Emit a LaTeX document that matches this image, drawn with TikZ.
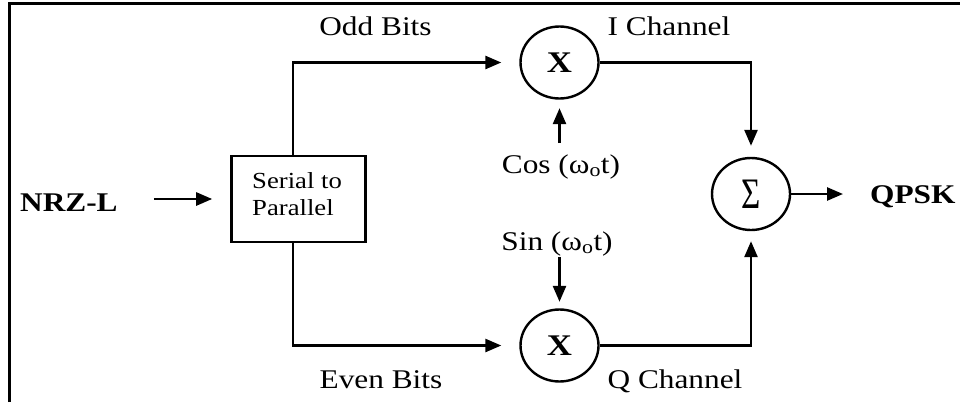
\documentclass[tikz,border=0pt]{standalone}
\usepackage{fontspec}
\setmainfont[FakeStretch=1.16]{Liberation Serif}
\usetikzlibrary{arrows.meta,shapes.geometric}
\begin{document}
\begin{tikzpicture}[x=1pt,y=-1pt,
  wire/.style={line width=2.6pt},
  flow/.style={wire,-{Triangle[length=16pt,width=13pt]}},
  mixer/.style={ellipse,draw,line width=2.4pt,minimum width=78pt,minimum height=72pt,inner sep=0pt,
    font=\fontsize{30}{32}\selectfont},
  blockbox/.style={draw,line width=2.6pt,minimum width=134pt,minimum height=86pt,inner sep=0pt},
  lbl/.style={font=\fontsize{27}{30}\selectfont,anchor=base,inner sep=0pt},
  boldlbl/.style={lbl,font=\fontsize{27}{30}\selectfont\bfseries},
  boxtext/.style={font=\fontsize{23}{27}\selectfont,anchor=base west,inner sep=0pt},
  ]
\useasboundingbox (0,0) rectangle (960,402);
% page frame (top and left edges)
\draw[line width=3pt] (9.5,402) -- (9.5,3) -- (960,3);

% blocks
\node[blockbox] (sp) at (298.5,199) {};
\node[boxtext] (sp1) at (252,188) {Serial to};
\node[boxtext] (sp2) at (252,215) {Parallel};

\node[mixer] (mi) at (559.5,62.5) {\bfseries X};
\node[mixer] (mq) at (559.5,345.5) {\bfseries X};
\node[mixer] (sum) at (751,194) {\scalebox{0.95}[1.45]{Σ}};

% texts
\node[boldlbl,anchor=base west] (nrz) at (20,211) {NRZ-L};
\node[boldlbl,anchor=base west] (out) at (870,203) {QPSK};
\node[lbl] (odd) at (375.5,35) {Odd Bits};
\node[lbl] (ich) at (669,35) {I Channel};
\node[lbl] (even) at (381,388) {Even Bits};
\node[lbl] (qch) at (675,388) {Q Channel};
\node[lbl] (cos) at (561,173) {Cos (ω\textsubscript{o}t)};
\node[lbl] (sin) at (557,250) {Sin (ω\textsubscript{o}t)};

% connectors
\draw[flow,shorten <=36pt,shorten >=18pt] (nrz.east |- sp.west) -- (sp.west);
\draw[flow,shorten >=18pt] ([xshift=-5.5pt]sp.north) |- (mi.west);
\draw[flow,shorten >=18pt] ([xshift=-5.5pt]sp.south) |- (mq.west);
\draw[flow,shorten <=11pt,shorten >=8.5pt] (mi.south |- cos.north) -- (mi.south);
\draw[flow,shorten <=1pt,shorten >=6.5pt] (mq.north |- sin.south) -- (mq.north);
\draw[flow,shorten >=11pt] (mi.east) -| (sum.north);
\draw[flow,shorten >=10pt] (mq.east) -| (sum.south);
\draw[flow,shorten >=27pt] (sum.east) -- (sum.east -| out.west);
\end{tikzpicture}
\end{document}
